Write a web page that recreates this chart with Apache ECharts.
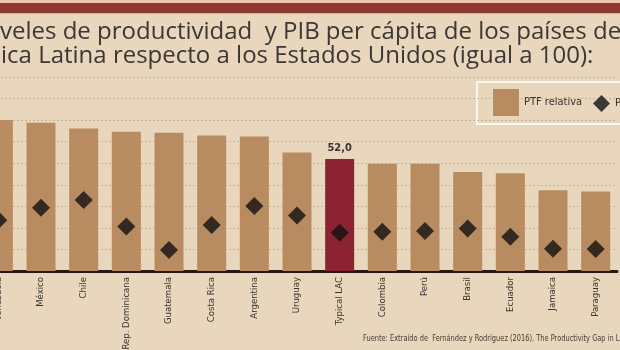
<!DOCTYPE html>
<html>
<head>
<meta charset="utf-8">
<script src="https://cdn.jsdelivr.net/npm/echarts@6/dist/echarts.min.js"></script>
<style>
  html, body { margin: 0; padding: 0; background: #e8d6bd; }
  #chart { width: 620px; height: 350px; }
</style>
</head>
<body>
<div id="chart"></div>
<script>
const countries = ['Venezuela', 'México', 'Chile', 'Rep. Dominicana', 'Guatemala', 'Costa Rica', 'Argentina', 'Uruguay',
  'Typical LAC', 'Colombia', 'Perú', 'Brasil', 'Ecuador', 'Jamaica', 'Paraguay']
const ptfRelativa = [70.0, 68.8, 66.1, 64.6, 64.1, 62.9, 62.4, 55.0, 52.0, 49.7, 49.7, 45.9, 45.4, 37.5, 36.9]
const pibPerCapita = [23.6, 29.3, 32.9, 20.7, 9.7, 21.3, 30.1, 25.8, 17.8, 18.2, 18.5, 19.7, 15.9, 10.3, 10.2]
const highlight = 'Typical LAC'

const titleLines = [
  'veles de productividad  y PIB per cápita de los países de',
  'ica Latina respecto a los Estados Unidos (igual a 100):'
]
const sourceText = 'Fuente: Extraído de  Fernández y Rodríguez (2016). The Productivity Gap in Latin America'

const narrow = "'Liberation Sans Narrow', 'DejaVu Sans Condensed', sans-serif"

const myChart = echarts.init(document.getElementById('chart'))

const option = {
  backgroundColor: '#e8d6bd',
  animation: false,
  grid: {
    left: -23,
    right: 3,
    top: 77,
    bottom: 79,
    containLabel: false,
    outerBoundsMode: 'none'
  },
  legend: [
    {
      data: ['PTF relativa'],
      left: 493,
      top: 89,
      padding: 0,
      icon: 'rect',
      itemWidth: 26,
      itemHeight: 27,
      itemGap: 4,
      textStyle: { color: '#3b3430', fontSize: 11, fontFamily: narrow }
    },
    {
      data: ['PIB per cápita'],
      left: 593,
      top: 95,
      padding: 0,
      icon: 'diamond',
      itemWidth: 17,
      itemHeight: 17,
      textStyle: { color: '#3b3430', fontSize: 11, fontFamily: narrow }
    }
  ],
  xAxis: {
    type: 'category',
    data: countries,
    axisLine: { lineStyle: { color: '#231a16', width: 3 } },
    axisTick: { show: false },
    axisLabel: {
      rotate: 90,
      margin: 6,
      interval: 0,
      color: '#3b3430',
      fontSize: 9.5,
      fontFamily: narrow
    }
  },
  yAxis: {
    type: 'value',
    min: 0,
    max: 90,
    interval: 10,
    axisLabel: { show: false },
    axisLine: { show: false },
    axisTick: { show: false },
    splitLine: { lineStyle: { color: '#c8b398', type: [2, 2], width: 1 } }
  },
  graphic: [
    { type: 'rect', shape: { x: 0, y: 0, width: 620, height: 3 }, style: { fill: '#eec4ac' } },
    { type: 'rect', shape: { x: 0, y: 3, width: 620, height: 10 }, style: { fill: '#8e3733' } },
    { type: 'rect', shape: { x: 0, y: 13, width: 620, height: 1 }, style: { fill: '#dcb49c' } },
    {
      type: 'text', left: 0, top: 20,
      style: { text: titleLines[0], fill: '#3d3733', font: "24px 'Open Sans', sans-serif" }
    },
    {
      type: 'text', left: 1, top: 44,
      style: { text: titleLines[1], fill: '#3d3733', font: "24px 'Open Sans', sans-serif" }
    },
    {
      type: 'rect', shape: { x: 477, y: 82, width: 160, height: 42 },
      style: { fill: 'none', stroke: '#fbf6ee', lineWidth: 2 }
    },
    {
      type: 'text', x: 363, y: 334, scaleX: 0.82,
      style: { text: sourceText, fill: '#4a3a30', font: "9px " + narrow }
    }
  ],
  series: [
    {
      name: 'PTF relativa',
      type: 'bar',
      barWidth: 29,
      itemStyle: { color: '#b98b60' },
      data: ptfRelativa.map((v, i) => countries[i] === highlight
        ? {
            value: v,
            itemStyle: { color: '#8b2332' },
            label: {
              show: true,
              position: 'top',
              distance: 5,
              formatter: (p) => p.value.toFixed(1).replace('.', ','),
              color: '#3a3330',
              fontWeight: 'bold',
              fontSize: 11,
              fontFamily: narrow
            }
          }
        : v)
    },
    {
      name: 'PIB per cápita',
      type: 'scatter',
      symbol: 'diamond',
      symbolSize: 18,
      itemStyle: { color: '#121010' },
      data: pibPerCapita
    }
  ]
}

myChart.setOption(option)
</script>
</body>
</html>
